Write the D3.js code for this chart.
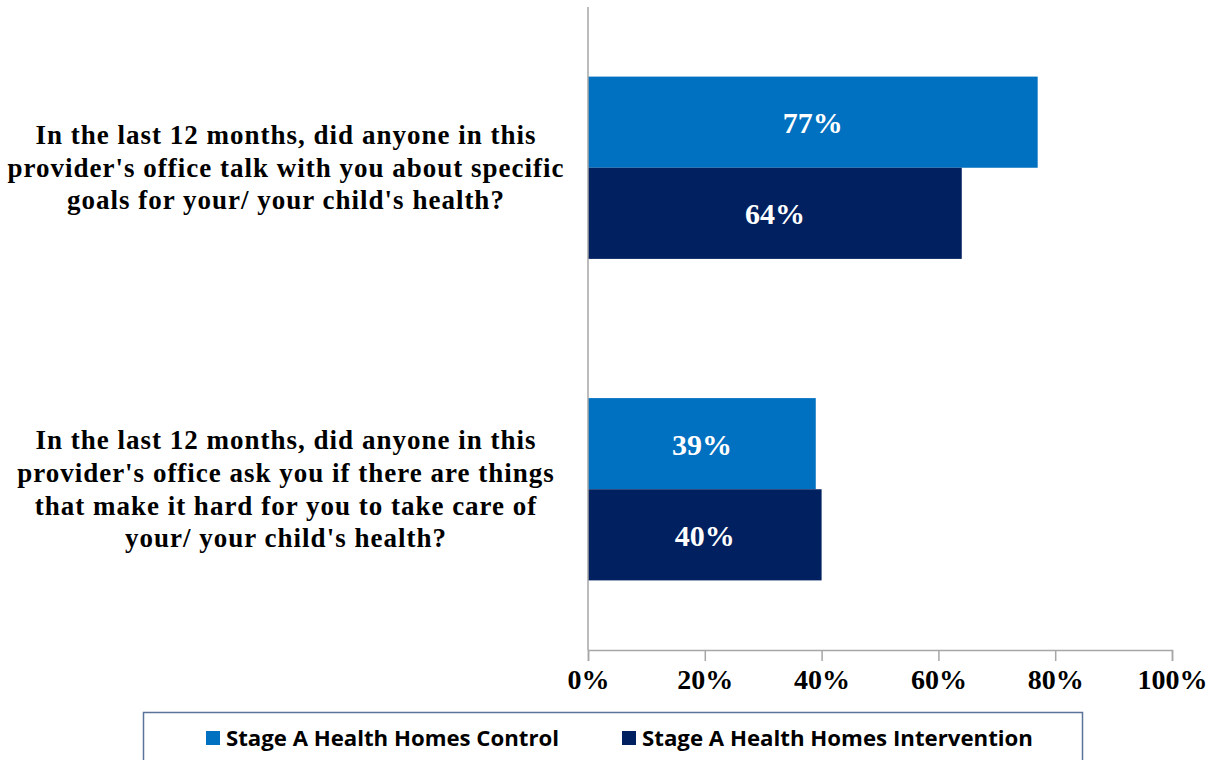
<!DOCTYPE html>
<html>
<head>
<meta charset="utf-8">
<script src="https://cdn.jsdelivr.net/npm/d3@7"></script>
<style>
  html, body { margin: 0; padding: 0; background: #fff; }
  svg { display: block; }
</style>
</head>
<body>
<svg id="chart" width="1217" height="760"></svg>
<script>
// Survey questions (one line per array entry)
const questions = [
  ["In the last 12 months, did anyone in this",
   "provider's office talk with you about specific",
   "goals for your/ your child's health?"],
  ["In the last 12 months, did anyone in this",
   "provider's office ask you if there are things",
   "that make it hard for you to take care of",
   "your/ your child's health?"]
];
const seriesNames = ["Stage A Health Homes Control", "Stage A Health Homes Intervention"];
const controlValues = [77, 39];
const interventionValues = [64, 40];
const tickValues = [0, 20, 40, 60, 80, 100];
const colors = ["#0070C0", "#002060"];

const svg = d3.select("#chart");
const serif = "'Liberation Serif', 'Times New Roman', serif";
const sans = "'Open Sans', Lato, sans-serif";

const plot = { left: 588, right: 1172, top: 7, bottom: 650 };

const x = d3.scaleLinear().domain([0, 100]).range([plot.left, plot.right]);
const y = d3.scaleBand()
  .domain(d3.range(questions.length))
  .range([plot.top, plot.bottom])
  .paddingInner(0.433)
  .paddingOuter(0.2165);
const ySeries = d3.scaleBand()
  .domain(d3.range(seriesNames.length))
  .range([0, y.bandwidth()]);

const seriesValues = [controlValues, interventionValues];

// Bars with value labels centred inside
const groups = svg.append("g").selectAll("g")
  .data(questions.map((q, i) => i))
  .join("g")
  .attr("transform", i => `translate(0,${y(i)})`);

groups.each(function (qi) {
  const g = d3.select(this);
  seriesValues.forEach((vals, si) => {
    const v = vals[qi];
    g.append("rect")
      .attr("x", x(0))
      .attr("y", ySeries(si))
      .attr("width", x(v) - x(0))
      .attr("height", ySeries.bandwidth())
      .attr("fill", colors[si]);
    g.append("text")
      .attr("x", (x(0) + x(v)) / 2)
      .attr("y", ySeries(si) + ySeries.bandwidth() / 2 + 11)
      .attr("text-anchor", "middle")
      .attr("fill", "#fff")
      .style("font-family", serif)
      .style("font-weight", "bold")
      .style("font-size", "30px")
      .text(v + "%");
  });
});

// Category labels
const lineH = 32.6;
svg.append("g").selectAll("text")
  .data(questions.map((q, i) => ({ q, i })))
  .join("text")
  .attr("text-anchor", "middle")
  .style("font-family", serif)
  .style("font-weight", "bold")
  .style("font-size", "27px")
  .style("letter-spacing", "1px")
  .attr("fill", "#000")
  .each(function (d) {
    const cy = y(d.i) + y.bandwidth() / 2;
    const n = d.q.length;
    d3.select(this).selectAll("tspan")
      .data(d.q)
      .join("tspan")
      .attr("x", 286)
      .attr("y", (t, k) => cy + (k - (n - 1) / 2) * lineH + 9)
      .text(t => t);
  });

// Vertical category axis line
svg.append("line")
  .attr("x1", plot.left).attr("x2", plot.left)
  .attr("y1", plot.top).attr("y2", plot.bottom)
  .attr("stroke", "#a6a6a6").attr("stroke-width", 1.5);

// Value axis
const xAxis = d3.axisBottom(x)
  .tickValues(tickValues)
  .tickSize(11)
  .tickFormat(d => d + "%");
const ax = svg.append("g")
  .attr("transform", `translate(0,${plot.bottom})`)
  .call(xAxis);
ax.select(".domain").attr("stroke", "#a6a6a6").attr("stroke-width", 1.5);
ax.selectAll(".tick line").attr("stroke", "#a6a6a6").attr("stroke-width", 1.5);
ax.selectAll(".tick text")
  .attr("y", 39)
  .attr("dy", null)
  .attr("fill", "#000")
  .style("font-family", serif)
  .style("font-weight", "bold")
  .style("font-size", "28px");

// Legend
const legend = svg.append("g");
legend.append("rect")
  .attr("x", 143.5).attr("y", 712.5)
  .attr("width", 939).attr("height", 70)
  .attr("fill", "#fff")
  .attr("stroke", "#5b7399").attr("stroke-width", 1.5);
const legendX = [206, 622];
const legendTextWidth = [333, 391];
seriesNames.forEach((name, i) => {
  legend.append("rect")
    .attr("x", legendX[i]).attr("y", 731)
    .attr("width", 14).attr("height", 14)
    .attr("fill", colors[i]);
  legend.append("text")
    .attr("x", legendX[i] + 20).attr("y", 746)
    .attr("textLength", legendTextWidth[i])
    .attr("lengthAdjust", "spacingAndGlyphs")
    .style("font-family", sans)
    .style("font-weight", "bold")
    .style("font-size", "22px")
    .attr("fill", "#000")
    .text(name);
});
</script>
</body>
</html>
